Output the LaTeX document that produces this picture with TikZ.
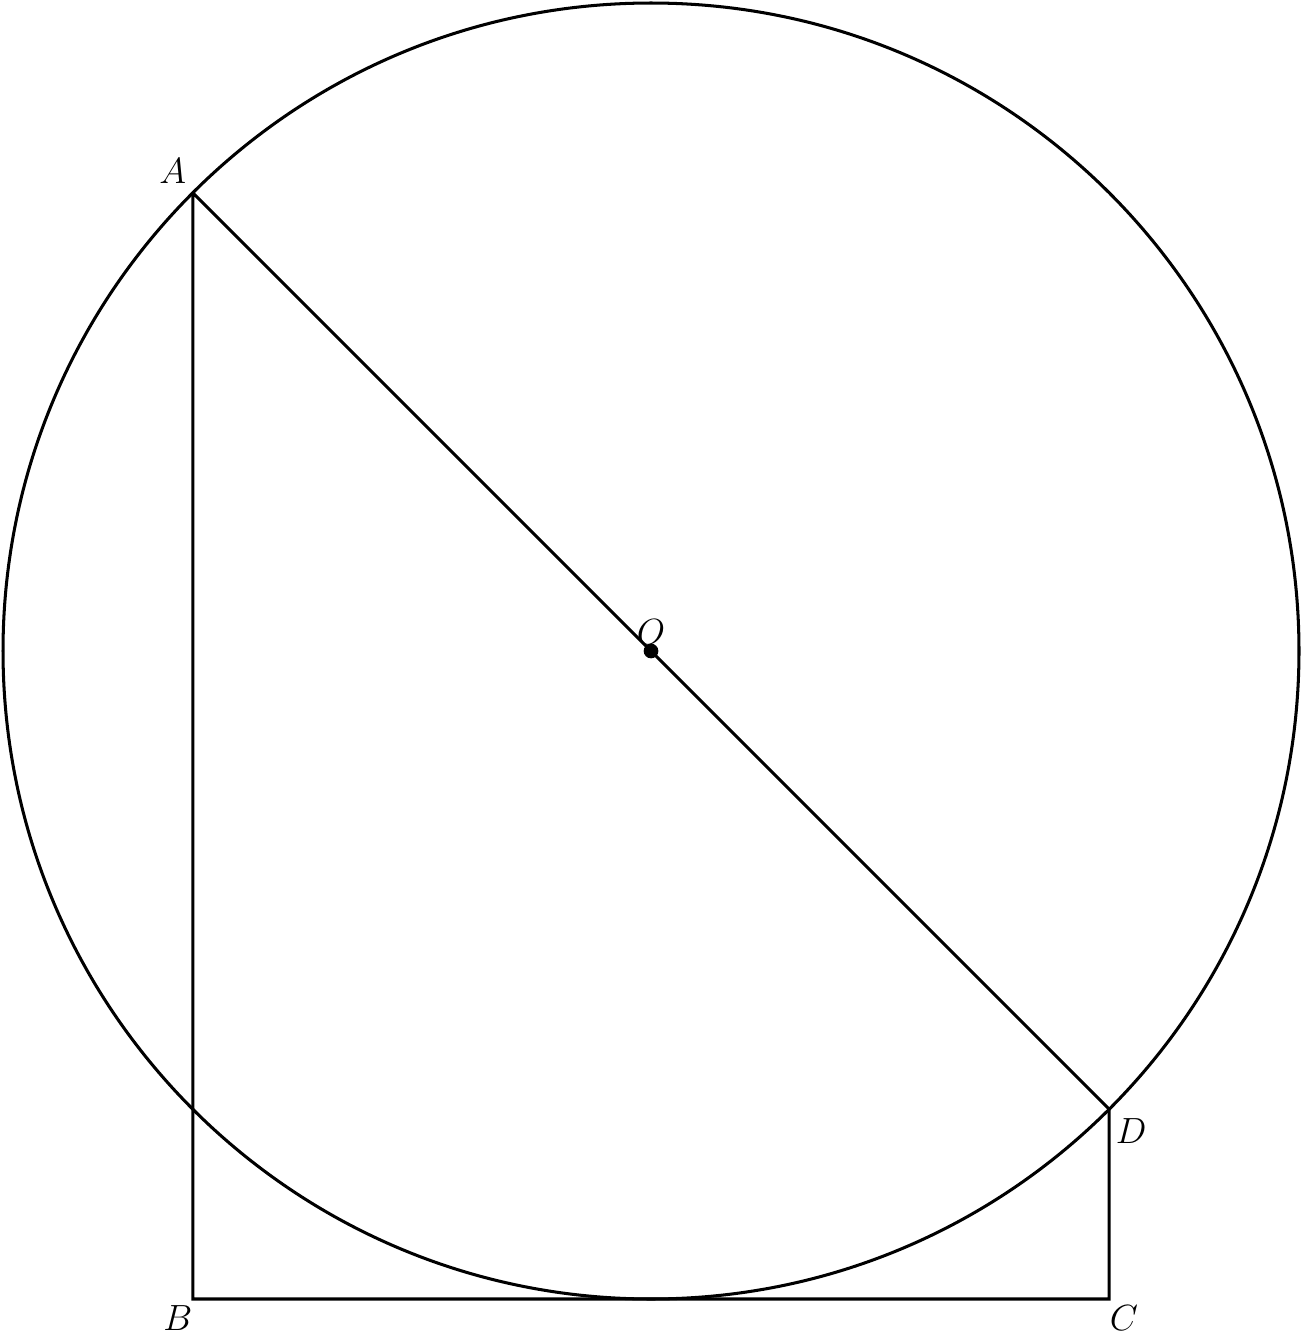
\documentclass[tikz,border=0pt]{standalone}
\usetikzlibrary{calc, positioning}

\begin{document}
\begin{tikzpicture}
  [
    figure line/.style={line width=1pt},
    point label/.style={inner sep=2pt, font=\large}
  ]
  \useasboundingbox (-7.535,-7.940) rectangle (7.558,7.535);
  \coordinate (O) at (0,0);
  \coordinate (A) at (135:7.5);
  \coordinate (D) at (-45:7.5);
  \coordinate (T) at (0,-7.5);
  \coordinate (B) at (A |- T);
  \coordinate (C) at (D |- T);

  \draw[figure line] (O) circle (7.5);
  \draw[figure line] (A) -- (B) -- (C) -- (D) -- (A);
  \fill (O) circle (0.085);

  \node[point label, above left=1pt and 0pt of A] (lA) {$A$};
  \node[point label, above=0pt of O] (lO) {$O$};
  \node[point label, below right=1pt and 0pt of D] (lD) {$D$};
  \node[point label, below left=0pt and -2pt of B] (lB) {$B$};
  \node[point label, below right=0pt and -2pt of C] (lC) {$C$};
\end{tikzpicture}
\end{document}
